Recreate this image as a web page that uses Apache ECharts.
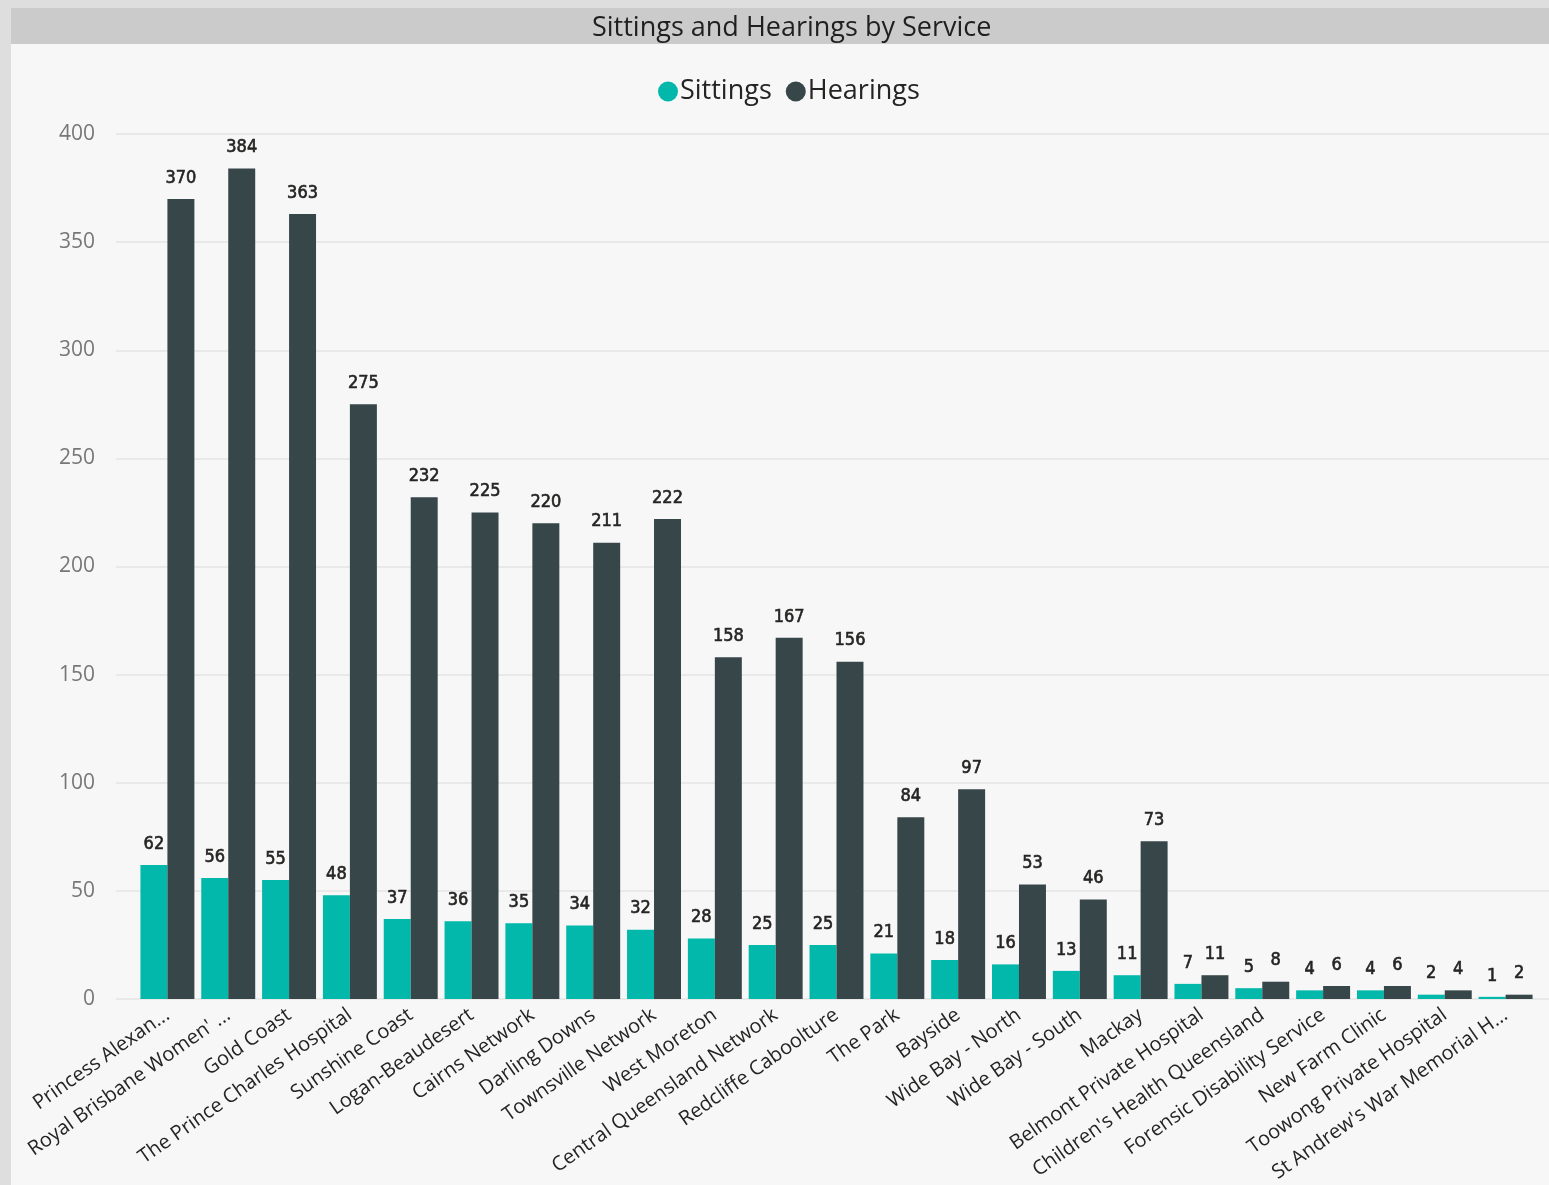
<!DOCTYPE html>
<html>
<head>
<meta charset="utf-8">
<script src="https://cdn.jsdelivr.net/npm/echarts@6/dist/echarts.min.js"></script>
<style>
html,body{margin:0;padding:0;background:#dedede;}
#chart{width:1549px;height:1185px;}
</style>
</head>
<body>
<div id="chart"></div>
<script>
const categories = [
  "Princess Alexan...", "Royal Brisbane Women' ...", "Gold Coast", "The Prince Charles Hospital",
  "Sunshine Coast", "Logan-Beaudesert", "Cairns Network", "Darling Downs", "Townsville Network",
  "West Moreton", "Central Queensland Network", "Redcliffe Caboolture", "The Park", "Bayside",
  "Wide Bay - North", "Wide Bay - South", "Mackay", "Belmont Private Hospital",
  "Children's Health Queensland", "Forensic Disability Service", "New Farm Clinic",
  "Toowong Private Hospital", "St Andrew's War Memorial H..."
];
const sittings = [62, 56, 55, 48, 37, 36, 35, 34, 32, 28, 25, 25, 21, 18, 16, 13, 11, 7, 5, 4, 4, 2, 1];
const hearings = [370, 384, 363, 275, 232, 225, 220, 211, 222, 158, 167, 156, 84, 97, 53, 46, 73, 11, 8, 6, 6, 4, 2];
const seriesNames = ["Sittings", "Hearings"];
const titleText = "Sittings and Hearings by Service";

const chart = echarts.init(document.getElementById('chart'), null, {renderer: 'canvas'});
const labelFont = {
  show: true, position: 'top', distance: 12,
  color: '#252423', fontSize: 18, fontWeight: 'normal',
  textBorderColor: '#252423', textBorderWidth: 0.6,
  fontFamily: '"DejaVu Sans Condensed", "DejaVu Sans", sans-serif'
};
chart.setOption({
  backgroundColor: '#dedede',
  animation: false,
  graphic: [
    {type: 'rect', shape: {x: 11, y: 44, width: 1538, height: 1141}, style: {fill: '#f7f7f7'}, z: -10},
    {type: 'rect', shape: {x: 11, y: 8, width: 1538, height: 36}, style: {fill: '#cbcbcb'}, z: -10}
  ],
  title: {
    text: titleText, left: 592, top: 14, padding: 0,
    textStyle: {fontFamily: '"Open Sans", sans-serif', fontSize: 27, fontWeight: 'normal', color: '#1f1f1f', lineHeight: 28}
  },
  legend: {
    data: seriesNames, top: 73, left: 653, icon: 'circle',
    itemWidth: 20, itemHeight: 20, itemGap: 14,
    textStyle: {fontFamily: '"Open Sans", sans-serif', fontSize: 27, lineHeight: 27, color: '#252423', padding: [0, 0, 0, -3]}
  },
  grid: [
    {left: 137, right: 13, top: 134, bottom: 186},
    {left: 116, right: 0, top: 134, bottom: 186}
  ],
  xAxis: [
    {
      type: 'category', data: categories, gridIndex: 0,
      axisLine: {show: false}, axisTick: {show: false},
      axisLabel: {interval: 0, rotate: 35, margin: 14, color: '#252423', fontSize: 20,
        fontFamily: '"Open Sans", sans-serif'}
    },
    {type: 'value', gridIndex: 1, min: 0, max: 1, show: false}
  ],
  yAxis: [
    {type: 'value', gridIndex: 0, min: 0, max: 400, interval: 50, show: false},
    {
      type: 'value', gridIndex: 1, min: 0, max: 400, interval: 50,
      axisLine: {show: false}, axisTick: {show: false},
      axisLabel: {color: '#777777', fontSize: 21, margin: 21, fontFamily: '"Open Sans", sans-serif'},
      splitLine: {lineStyle: {color: '#e9e9e9', width: 2}}
    }
  ],
  series: [
    {name: seriesNames[0], type: 'bar', data: sittings, xAxisIndex: 0, yAxisIndex: 0,
      barGap: '0%', barCategoryGap: '11.3%', itemStyle: {color: '#01B8AA'}, label: labelFont},
    {name: seriesNames[1], type: 'bar', data: hearings, xAxisIndex: 0, yAxisIndex: 0,
      barGap: '0%', barCategoryGap: '11.3%', itemStyle: {color: '#374649'}, label: labelFont}
  ]
});
</script>
</body>
</html>
